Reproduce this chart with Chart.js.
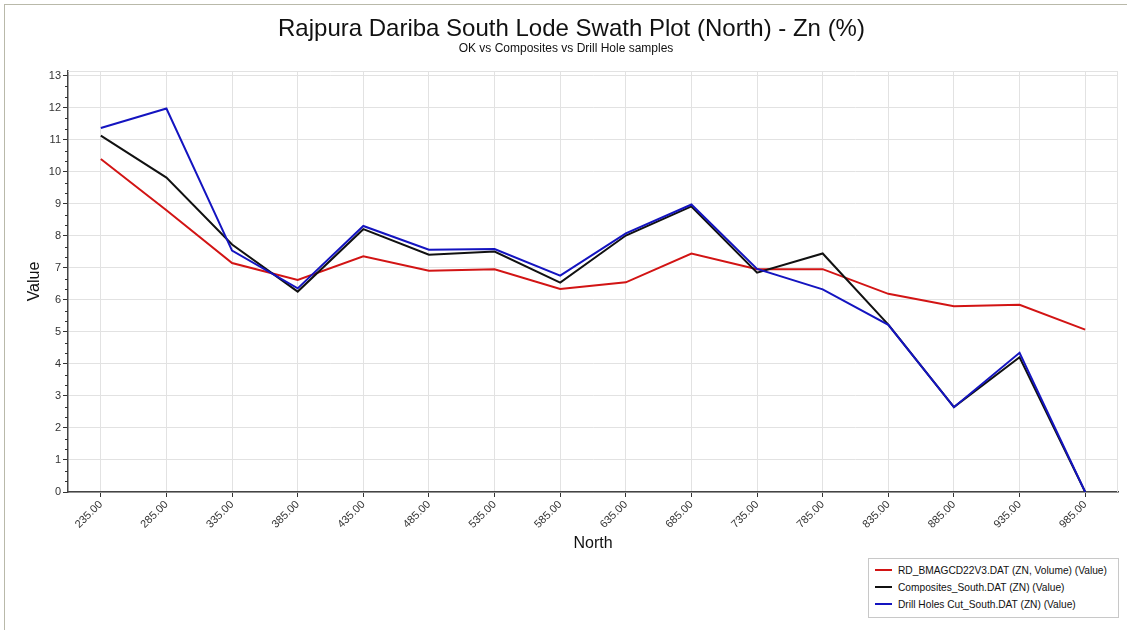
<!DOCTYPE html>
<html>
<head>
<meta charset="utf-8">
<script src="https://cdn.jsdelivr.net/npm/chart.js@4.4.1/dist/chart.umd.min.js"></script>
<style>
  html, body { margin: 0; padding: 0; background: #fff; }
  body { width: 1127px; height: 630px; position: relative; overflow: hidden; font-family: "Liberation Sans", Arial, sans-serif; }
  #frame { position: absolute; left: 4px; top: 4px; width: 1200px; height: 700px; border-left: 1px solid #b9b9aa; border-top: 1px solid #b9b9aa; }
  #wrap { position: absolute; left: 0; top: 0; width: 1127px; height: 630px; }
  #title { position: absolute; left: 0; width: 1143px; top: 14px; text-align: center; font-size: 24px; color: #111; }
  #subtitle { position: absolute; left: 0; width: 1132px; top: 41px; text-align: center; font-size: 12px; color: #111; }
  #legend { position: absolute; left: 868px; top: 558px; width: 249px; height: 58px; border: 1px solid #c8c8c8; background: #fff; font-size: 10.2px; color: #111; }
  .item { position: absolute; left: 6px; height: 16px; line-height: 16px; white-space: nowrap; }
  .sw { display: inline-block; width: 17px; height: 2px; vertical-align: middle; margin-right: 6px; position: relative; top: -1px; }
</style>
</head>
<body>
<div id="frame"></div>
<div id="wrap"><canvas id="c" width="1127" height="630"></canvas></div>
<div id="title">Rajpura Dariba South Lode Swath Plot (North) - Zn (%)</div>
<div id="subtitle">OK vs Composites vs Drill Hole samples</div>
<div id="legend"></div>
<script>
const categories = ["235.00","285.00","335.00","385.00","435.00","485.00","535.00","585.00","635.00","685.00","735.00","785.00","835.00","885.00","935.00","985.00"];
const okValues        = [10.40, 8.80, 7.15, 6.62, 7.36, 6.91, 6.96, 6.34, 6.55, 7.45, 6.96, 6.96, 6.19, 5.80, 5.85, 5.07];
const compositeValues = [11.13, 9.82, 7.73, 6.26, 8.21, 7.41, 7.51, 6.54, 8.01, 8.92, 6.85, 7.45, 5.23, 2.65, 4.21, 0.00];
const drillHoleValues = [11.37, 11.98, 7.54, 6.36, 8.31, 7.57, 7.59, 6.76, 8.08, 8.98, 6.97, 6.33, 5.22, 2.65, 4.35, 0.00];
const seriesNames = ["RD_BMAGCD22V3.DAT (ZN, Volume) (Value)", "Composites_South.DAT (ZN) (Value)", "Drill Holes Cut_South.DAT (ZN) (Value)"];
const seriesColors = ["#d21414", "#111111", "#1414c0"];
const yTicks = [0,1,2,3,4,5,6,7,8,9,10,11,12,13];

const extras = {
  id: 'extras',
  beforeDatasetsDraw(chart) {
    const {ctx, chartArea: a} = chart;
    ctx.save();
    ctx.strokeStyle = '#e2e2e2';
    ctx.lineWidth = 1;
    ctx.beginPath();
    ctx.moveTo(a.left, a.top + 0.5); ctx.lineTo(a.right, a.top + 0.5);
    ctx.moveTo(a.right - 0.5, a.top); ctx.lineTo(a.right - 0.5, a.bottom);
    ctx.stroke();
    ctx.restore();
  },
  afterDraw(chart) {
    const {ctx, chartArea: a, scales: {y}} = chart;
    ctx.save();
    ctx.strokeStyle = '#333';
    ctx.lineWidth = 1;
    ctx.beginPath();
    for (let v = 0; v <= 13; v++) {
      for (let k = 1; k < 3; k++) {
        const val = v + k / 3;
        if (val > y.max) continue;
        const py = Math.round(y.getPixelForValue(val)) + 0.5;
        ctx.moveTo(a.left - 3, py); ctx.lineTo(a.left, py);
      }
    }
    ctx.stroke();
    ctx.restore();
  }
};

const ds = [okValues, compositeValues, drillHoleValues].map((d, i) => ({
  label: seriesNames[i],
  data: d,
  borderColor: seriesColors[i],
  backgroundColor: seriesColors[i],
  borderWidth: 2,
  pointRadius: 0,
  tension: 0,
  fill: false,
  order: 2 - i
}));

new Chart(document.getElementById('c'), {
  type: 'line',
  data: { labels: categories, datasets: ds },
  options: {
    responsive: false,
    animation: false,
    layout: { padding: { left: 8, right: 9, top: 71, bottom: 75 } },
    plugins: { legend: { display: false }, tooltip: { enabled: false }, title: { display: false } },
    scales: {
      x: {
        offset: true,
        grid: { offset: false, color: '#e2e2e2', tickColor: '#333', tickLength: 5, drawTicks: true },
        border: { color: '#444', width: 1.5 },
        ticks: { minRotation: 45, maxRotation: 45, autoSkip: false, color: '#333', font: { family: 'Liberation Sans', size: 11 }, padding: 1 },
        title: { display: true, text: 'North', color: '#111', font: { family: 'Liberation Sans', size: 16 }, padding: { top: 0, bottom: 2 } },
        afterFit(s) { s.height = 63; }
      },
      y: {
        min: 0, max: 13.15,
        afterBuildTicks(s) { s.ticks = yTicks.map(v => ({ value: v })); },
        grid: { color: '#e2e2e2', tickColor: '#333', tickLength: 5 },
        border: { color: '#444', width: 1.5 },
        ticks: { color: '#333', font: { family: 'Liberation Sans', size: 11 }, padding: 2 },
        title: { display: true, text: 'Value', color: '#111', font: { family: 'Liberation Sans', size: 16 }, padding: { top: 17, bottom: 0 } },
        afterFit(s) { s.width = 60; }
      }
    }
  },
  plugins: [extras]
});

const leg = document.getElementById('legend');
seriesNames.forEach((n, i) => {
  const d = document.createElement('div');
  d.className = 'item';
  d.style.top = (4 + i * 17) + 'px';
  d.innerHTML = '<span class="sw" style="background:' + seriesColors[i] + '"></span>' + n;
  leg.appendChild(d);
});
</script>
</body>
</html>
